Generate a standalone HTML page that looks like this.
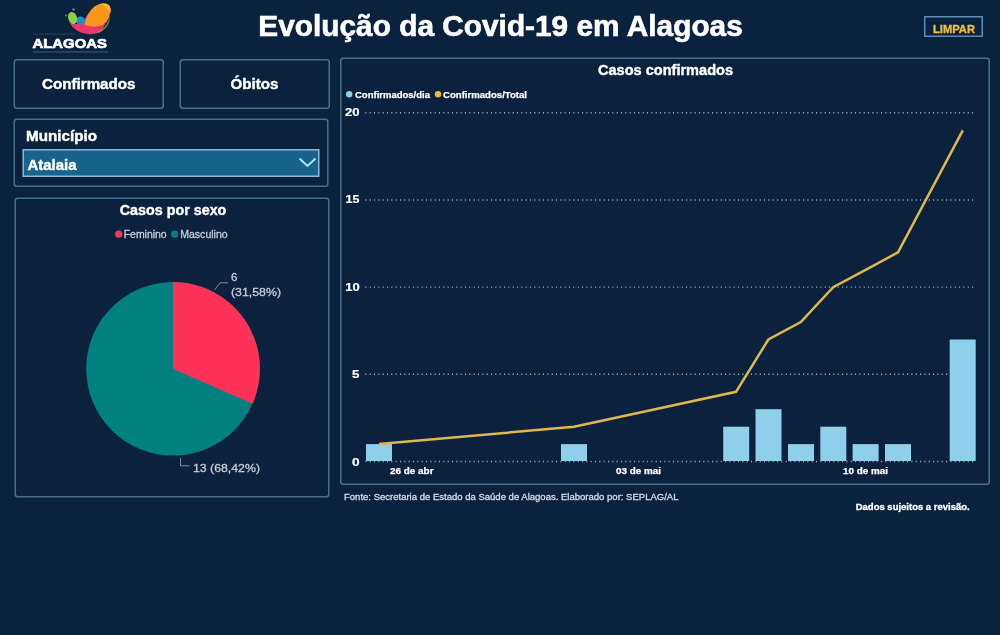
<!DOCTYPE html>
<html><head><meta charset="utf-8">
<style>
html,body{margin:0;padding:0;background:#0b223e;width:1000px;height:635px;overflow:hidden}
svg{display:block;will-change:transform}
text{font-family:"Liberation Sans",sans-serif}
</style></head>
<body>
<svg width="1000" height="635" viewBox="0 0 1000 635">
<defs>
<filter id="bl" x="-30%" y="-30%" width="160%" height="160%"><feGaussianBlur stdDeviation="0.6"/></filter>
<filter id="bl2" x="-30%" y="-30%" width="160%" height="160%"><feGaussianBlur stdDeviation="0.35"/></filter>
</defs>
<rect x="0" y="0" width="1000" height="635" fill="#0b223e"/>

<!-- logo -->
<g id="logo" filter="url(#bl)">
  <path d="M69.5 23 Q75 32.5 88 34.2 Q97 35 102 30 L105 24 L90 12 Q85 17 84 22 Q78 25.5 69.5 23 Z" fill="#e8386b"/>
  <path d="M109.5 16 Q108 27 95.5 33.5 Q104 32 108 25 Q110.5 20 109.5 16 Z" fill="#c9c94a" opacity="0.5"/>
  <path d="M84.5 24.5 Q86.5 13 95 6 Q101 2.5 106 3.5 Q111 5 110.5 11 Q110 17 106.5 22 Q101 27 95 26.5 Q88 26.5 84.5 24.5 Z" fill="#f7961f"/>
  <path d="M100 4 Q106 2.5 109.5 5.5 Q111.5 9 110.5 13 Q108 7 100 4 Z" fill="#fdba2a"/>
  <ellipse cx="80.5" cy="20.5" rx="4.5" ry="4" fill="#1e8fd2"/>
  <ellipse cx="72.6" cy="18" rx="4.4" ry="6.2" transform="rotate(-20 72.6 18)" fill="#8bd046"/>
  <circle cx="73.5" cy="9.5" r="1.1" fill="#9aa7b0"/>
  <circle cx="66" cy="15.5" r="0.9" fill="#7f8f9a"/>
</g>
<text x="32.5" y="47.6" font-size="13.6" font-weight="bold" fill="#ffffff" stroke="#ffffff" stroke-width="0.7" textLength="74.5" lengthAdjust="spacingAndGlyphs">ALAGOAS</text>
<rect x="33" y="33.6" width="42" height="0.9" fill="#5d6f86" opacity="0.45"/>
<rect x="33" y="51.2" width="75" height="1.4" fill="#3f6a8a" opacity="0.6"/>

<!-- title -->
<text x="258.3" y="35.5" font-size="28.6" font-weight="bold" fill="#ffffff" stroke="#ffffff" stroke-width="0.6" textLength="484.5" lengthAdjust="spacingAndGlyphs">Evolução da Covid-19 em Alagoas</text>

<!-- LIMPAR -->
<rect x="924.75" y="16.75" width="57.5" height="19.5" fill="none" stroke="#5b8db5" stroke-width="1.5"/>
<text x="933" y="33" font-size="11" font-weight="bold" fill="#ebc03c" stroke="#ebc03c" stroke-width="0.3" textLength="42" lengthAdjust="spacingAndGlyphs">LIMPAR</text>

<!-- buttons -->
<rect x="14.25" y="59.75" width="149" height="48.5" rx="2.5" fill="#0c213d" stroke="#47708b" stroke-width="1.5"/>
<text x="42" y="88.5" font-size="14.5" font-weight="bold" fill="#ffffff" stroke="#ffffff" stroke-width="0.4" textLength="93.5" lengthAdjust="spacingAndGlyphs">Confirmados</text>
<rect x="180.25" y="59.75" width="149" height="48.5" rx="2.5" fill="#0c213d" stroke="#47708b" stroke-width="1.5"/>
<text x="230.5" y="88.5" font-size="14.5" font-weight="bold" fill="#ffffff" stroke="#ffffff" stroke-width="0.4" textLength="48" lengthAdjust="spacingAndGlyphs">Óbitos</text>

<!-- municipio -->
<rect x="14.25" y="119.25" width="313.5" height="67" rx="2.5" fill="#0c213d" stroke="#47708b" stroke-width="1.5"/>
<text x="26" y="140.5" font-size="14.5" font-weight="bold" fill="#ffffff" stroke="#ffffff" stroke-width="0.4" textLength="71" lengthAdjust="spacingAndGlyphs">Município</text>
<rect x="23.25" y="149.75" width="295.5" height="26.5" fill="#16638c" stroke="#8db8d6" stroke-width="1.5"/>
<text x="27.5" y="169.5" font-size="14" font-weight="bold" fill="#ffffff" stroke="#ffffff" stroke-width="0.4" textLength="49" lengthAdjust="spacingAndGlyphs">Atalaia</text>
<path d="M299.5 158.5 L307.5 166 L315.5 158.5" fill="none" stroke="#b5e3f6" stroke-width="1.9"/>

<!-- pie panel -->
<rect x="15.25" y="198.25" width="313.5" height="298.5" rx="2.5" fill="#0c213d" stroke="#47708b" stroke-width="1.5"/>
<text x="119.75" y="214.9" font-size="14" font-weight="bold" fill="#ffffff" stroke="#ffffff" stroke-width="0.4" textLength="106.6" lengthAdjust="spacingAndGlyphs">Casos por sexo</text>
<circle cx="118.7" cy="234.2" r="3.6" fill="#fe3158"/>
<text x="123.7" y="237.7" font-size="10.5" fill="#c9ccd3" stroke="#c9ccd3" stroke-width="0.3" textLength="43" lengthAdjust="spacingAndGlyphs">Feminino</text>
<circle cx="174.6" cy="234.2" r="3.6" fill="#008080"/>
<text x="180.2" y="237.7" font-size="10.5" fill="#c9ccd3" stroke="#c9ccd3" stroke-width="0.3" textLength="47.5" lengthAdjust="spacingAndGlyphs">Masculino</text>

<circle cx="173" cy="368.8" r="86.8" fill="#008080"/>
<path d="M173 368.8 L173 282 A86.8 86.8 0 0 1 252.5 403.7 Z" fill="#fe3158"/>
<path d="M214.5 290 L220 282.8 L228 282.8" fill="none" stroke="#7d8797" stroke-width="1"/>
<text x="231" y="280.8" font-size="11.5" fill="#c9ccd3" stroke="#c9ccd3" stroke-width="0.3">6</text>
<text x="231" y="295.5" font-size="11.5" fill="#c9ccd3" stroke="#c9ccd3" stroke-width="0.3" textLength="50" lengthAdjust="spacingAndGlyphs">(31,58%)</text>
<path d="M180.5 458 L180.5 465.8 L189.5 465.8" fill="none" stroke="#7d8797" stroke-width="1"/>
<text x="193" y="471.6" font-size="11.5" fill="#c9ccd3" stroke="#c9ccd3" stroke-width="0.3" textLength="67" lengthAdjust="spacingAndGlyphs">13 (68,42%)</text>

<!-- chart panel -->
<rect x="340.75" y="58.25" width="648.5" height="426" rx="2.5" fill="#0c213d" stroke="#47708b" stroke-width="1.5"/>
<text x="598" y="75.2" font-size="14" font-weight="bold" fill="#ffffff" stroke="#ffffff" stroke-width="0.4" textLength="135" lengthAdjust="spacingAndGlyphs">Casos confirmados</text>
<circle cx="349.2" cy="94.2" r="3.2" fill="#8dd0ee"/>
<text x="355" y="97.8" font-size="9.5" font-weight="bold" fill="#ffffff" stroke="#ffffff" stroke-width="0.25" textLength="75" lengthAdjust="spacingAndGlyphs">Confirmados/dia</text>
<circle cx="438" cy="94.2" r="3.2" fill="#f0b733"/>
<text x="443" y="97.8" font-size="9.5" font-weight="bold" fill="#ffffff" stroke="#ffffff" stroke-width="0.25" textLength="84" lengthAdjust="spacingAndGlyphs">Confirmados/Total</text>

<!-- y labels -->
<g font-size="11" font-weight="bold" fill="#ffffff" stroke="#ffffff" stroke-width="0.2" text-anchor="end">
<text x="359.6" y="116.1" textLength="14.6" lengthAdjust="spacingAndGlyphs">20</text>
<text x="359.4" y="203.3" textLength="13.8" lengthAdjust="spacingAndGlyphs">15</text>
<text x="359.6" y="290.5" textLength="14.4" lengthAdjust="spacingAndGlyphs">10</text>
<text x="359.4" y="377.8" textLength="7.4" lengthAdjust="spacingAndGlyphs">5</text>
<text x="359.6" y="466" textLength="7.6" lengthAdjust="spacingAndGlyphs">0</text>
</g>
<!-- gridlines -->
<g stroke="#9fb0c6" stroke-width="1.4" stroke-dasharray="1.05 3.284">
<line x1="365.3" y1="112.8" x2="973.4" y2="112.8"/>
<line x1="365.3" y1="200" x2="973.4" y2="200"/>
<line x1="365.3" y1="287.1" x2="973.4" y2="287.1"/>
<line x1="365.3" y1="374.2" x2="973.4" y2="374.2"/>
</g>

<!-- bars -->
<g fill="#8ecfec">
<rect x="366" y="444.1" width="26" height="16.9"/>
<rect x="561" y="444.1" width="26" height="16.9"/>
<rect x="723.2" y="426.7" width="26" height="34.3"/>
<rect x="755.5" y="409.2" width="26" height="51.8"/>
<rect x="788" y="444.1" width="26" height="16.9"/>
<rect x="820.3" y="426.7" width="26" height="34.3"/>
<rect x="852.6" y="444.1" width="26" height="16.9"/>
<rect x="885" y="444.1" width="26" height="16.9"/>
<rect x="949.7" y="339.5" width="26" height="121.5"/>
</g>

<line x1="365.3" y1="461.5" x2="973.4" y2="461.5" stroke="#9fb0c6" stroke-width="1.4" stroke-dasharray="1.05 3.284"/>
<!-- line -->
<polyline points="379,444.1 574,426.7 736,391.8 768.4,339.5 800.8,322.1 833.2,287.2 865.6,269.8 898,252.4 962.8,130.4" fill="none" stroke="#dfb84c" stroke-width="2.5" stroke-linejoin="miter"/>

<!-- x labels -->
<g font-size="9" font-weight="bold" fill="#ffffff" stroke="#ffffff" stroke-width="0.25">
<text x="390" y="473.5" textLength="43.5" lengthAdjust="spacingAndGlyphs">26 de abr</text>
<text x="616" y="473.5" textLength="45" lengthAdjust="spacingAndGlyphs">03 de mai</text>
<text x="843" y="473.5" textLength="45" lengthAdjust="spacingAndGlyphs">10 de mai</text>
</g>

<!-- footer -->
<text x="344" y="499.5" font-size="9" fill="#d8dce4" stroke="#d8dce4" stroke-width="0.3" textLength="334.5" lengthAdjust="spacingAndGlyphs">Fonte: Secretaria de Estado da Saúde de Alagoas. Elaborado por: SEPLAG/AL</text>
<text x="855.7" y="510" font-size="9" font-weight="bold" fill="#ffffff" stroke="#ffffff" stroke-width="0.3" textLength="114" lengthAdjust="spacingAndGlyphs">Dados sujeitos a revisão.</text>
</svg>
</body></html>
